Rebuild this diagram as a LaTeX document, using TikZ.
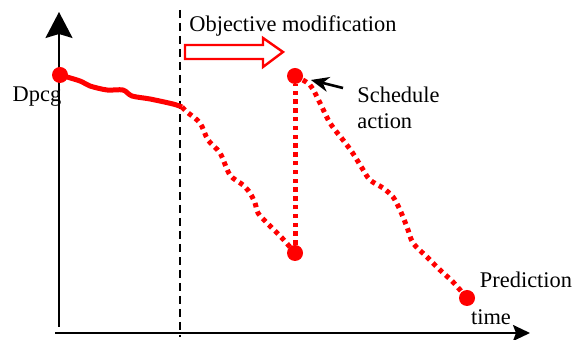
\documentclass[tikz,border=0pt]{standalone}
\usepackage{fontspec}
\setmainfont{Liberation Serif}
\usetikzlibrary{arrows.meta}

\begin{document}
\begin{tikzpicture}[x=0.5pt,y=-0.5pt,
	textlabel/.style={font=\rmfamily\fontsize{11.2}{13}\selectfont,inner sep=0pt},
	dot/.style={circle,fill=red,inner sep=0pt,minimum size=8pt},
	solidline/.style={red,line width=2.5pt,line join=round},
	dotline/.style={red,line width=2.5pt,dash pattern=on 2.2pt off 2.2pt}]
	
	\def\axisx{59}
	\def\axisy{333}
	\def\now{180}
	
	\useasboundingbox (0,0) rectangle (582,340);
	
	% The axes
	\coordinate (ybottom) at (\axisx,327);
	\coordinate (ytop) at (\axisx,12);
	\coordinate (xleft) at (55,\axisy);
	\coordinate (xright) at (530,\axisy);
	\draw [line width=1pt,-{Stealth[length=13pt,width=13.5pt,inset=2pt]}] (ybottom) -- (ytop);
	\draw [line width=1pt,-{Stealth[length=8.5pt,width=8pt,inset=1.5pt]}] (xleft) -- (xright);
	
	% The present time
	\coordinate (nowtop) at (\now,10);
	\coordinate (nowbottom) at (\now,337);
	\draw [line width=0.75pt,dash pattern=on 4pt off 2.5pt] (nowtop) -- (nowbottom);
	
	% The points
	\node (start) at (60,75) [dot] {};
	\node (acttop) at (295,76) [dot] {};
	\node (actbottom) at (295,253) [dot] {};
	\node (pred) at (467,298) [dot] {};
	\coordinate (change) at (182,107);
	
	% Past and predicted curves
	\draw [solidline] plot [smooth,tension=0.5] coordinates
	      {(start) (80,81) (90,86) (107,90) (123,90) (132,96) (150,99) (173,104) (change)};
	\draw [dotline] plot [smooth,tension=0.5] coordinates
	      {(change) (187,112) (200,123) (208,140) (220,153) (230,175) (243,185) (250,193)
	       (255,203) (258,213) (267,223) (282,238) (actbottom)};
	\draw [dotline] (actbottom) -- (acttop);
	\draw [dotline] plot [smooth,tension=0.5] coordinates
	      {(acttop) (310,85) (320,103) (330,123) (343,140) (352,152) (362,168) (370,180)
	       (383,188) (393,197) (400,210) (407,227) (413,243) (427,257) (440,270) (453,282) (pred)};
	
	% The hollow arrow
	\draw [red,line width=1.2pt,fill=white]
	      (185,45) -- (263,45) -- (263,38) -- (283,52) -- (263,67) -- (263,59) -- (185,59) -- cycle;
	
	% The labels
	\node (objective) at (293,26) [textlabel] {Objective modification};
	\node (dpcg) at (37,97) [textlabel] {Dpcg};
	\node (schedule) at (357,108) [textlabel,anchor=west,align=left] {Schedule\\action};
	\node (prediction) at (526,280) [textlabel] {Prediction};
	\node (time) at (491,317) [textlabel] {time};
	
	\coordinate (pointer) at (343,88);
	\draw [line width=1.3pt,-{Stealth[length=9pt,width=7.5pt]},shorten >=4pt] (pointer) -- (acttop);
	
\end{tikzpicture}
\end{document}
